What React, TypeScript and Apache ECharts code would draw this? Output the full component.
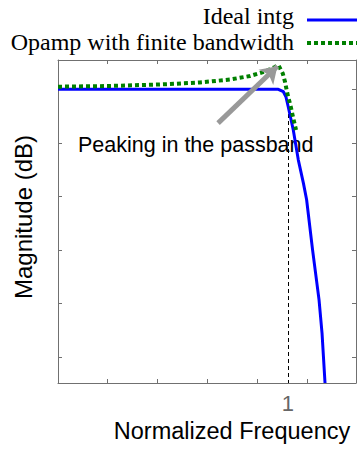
import React, { useEffect, useRef } from 'react';
import * as echarts from 'echarts';

const SERIES_NAMES = ['Ideal intg', 'Opamp with finite bandwidth'];
const IDEAL_FREQ = [0, 0.4, 0.958, 0.98, 0.991, 1.001, 1.023, 1.045, 1.067, 1.081, 1.107, 1.135, 1.148, 1.161];
const IDEAL_MAG = [0, 0, 0, -0.45, -1.38, -3.25, -7.59, -13.2, -17.5, -20.6, -30.0, -39.3, -45.5, -54.8];
const OPAMP_FREQ = [0, 0.226, 0.443, 0.617, 0.748, 0.835, 0.9, 0.943, 0.958, 0.977, 0.987, 0.997, 1.012, 1.023, 1.035];
const OPAMP_MAG = [0.49, 0.62, 0.9, 1.27, 1.83, 2.48, 3.32, 4.16, 4.53, 2.99, 1.42, -0.75, -3.25, -5.41, -7.59];
const X_TICKS = [0.214, 0.432, 0.649, 0.867, 1.084];
const X_LABELS = [1];
const Y_TICKS = [-50, -40, -30, -20, -10, 0];
const X_MIN = 0;
const X_MAX = 1.2957;
const Y_MIN = -54.8;
const Y_MAX = 5.47;
const CUTOFF_FREQ = 1;
const CUTOFF_MAG = -3.3;
const ARROW_FROM = [0.696, -6.3];
const ARROW_TO = [0.954, 4.3];
const ANNOTATION = 'Peaking in the passband';
const X_NAME = 'Normalized Frequency';
const Y_NAME = 'Magnitude (dB)';

const AXIS_COLOR = '#707070';
const SANS = '"Liberation Sans", Arial, sans-serif';
const SERIF = '"Liberation Serif", "Times New Roman", serif';

export default function App() {
  const ref = useRef<HTMLDivElement>(null);
  useEffect(() => {
    if (!ref.current) return;
    const chart = echarts.init(ref.current, undefined, { renderer: 'svg' });
    const ideal = IDEAL_FREQ.map((f, i) => [f, IDEAL_MAG[i]]);
    const opamp = OPAMP_FREQ.map((f, i) => [f, OPAMP_MAG[i]]);
    const baseX = {
      type: 'value',
      min: X_MIN,
      max: X_MAX,
      splitLine: { show: false },
      axisLine: { show: true, onZero: false, lineStyle: { color: AXIS_COLOR, width: 1 } },
      axisTick: { show: true, inside: true, length: 4, customValues: X_TICKS, lineStyle: { color: AXIS_COLOR } },
    };
    const baseY = {
      type: 'value',
      min: Y_MIN,
      max: Y_MAX,
      splitLine: { show: false },
      axisLine: { show: true, onZero: false, lineStyle: { color: AXIS_COLOR, width: 1 } },
      axisTick: { show: true, inside: true, length: 4, customValues: Y_TICKS, lineStyle: { color: AXIS_COLOR } },
      axisLabel: { show: false },
    };
    chart.setOption({
      animation: false,
      grid: { left: 58, right: 1, top: 60, bottom: 66, containLabel: false },
      xAxis: [
        {
          ...baseX,
          position: 'bottom',
          axisLabel: { show: true, customValues: X_LABELS, margin: 9, fontFamily: SANS, fontSize: 22, color: '#666' },
        },
        { ...baseX, position: 'top', axisLabel: { show: false } },
      ],
      yAxis: [
        { ...baseY, position: 'left' },
        { ...baseY, position: 'right' },
      ],
      series: [
        {
          name: SERIES_NAMES[0],
          type: 'line',
          data: ideal,
          showSymbol: false,
          symbol: 'none',
          lineStyle: { color: '#0000ff', width: 3 },
          z: 3,
          markLine: {
            silent: true,
            symbol: ['none', 'none'],
            label: { show: false },
            lineStyle: { color: '#000', width: 1, type: [4, 3] },
            data: [[{ coord: [CUTOFF_FREQ, CUTOFF_MAG] }, { coord: [CUTOFF_FREQ, Y_MIN] }]],
            z: 1,
          },
        },
        {
          name: SERIES_NAMES[1],
          type: 'line',
          data: opamp,
          showSymbol: false,
          symbol: 'none',
          lineStyle: { color: '#008000', width: 4, type: [4, 3] },
          z: 4,
          markLine: {
            silent: true,
            symbol: ['none', 'arrow'],
            symbolSize: 16,
            label: { show: false },
            lineStyle: { color: '#999999', width: 5, type: 'solid' },
            itemStyle: { color: '#999999' },
            data: [[{ coord: ARROW_FROM }, { coord: ARROW_TO }]],
          },
        },
      ],
      graphic: [
        { type: 'text', left: 78, top: 134, style: { text: ANNOTATION, fontFamily: SANS, fontSize: 21.5, fill: '#000' } },
        { type: 'text', x: 232, y: 431, style: { text: X_NAME, fontFamily: SANS, fontSize: 23.5, fill: '#000', align: 'center', verticalAlign: 'middle' } },
        { type: 'text', x: 23, y: 217, rotation: Math.PI / 2, style: { text: Y_NAME, fontFamily: SANS, fontSize: 24, fill: '#000', align: 'center', verticalAlign: 'middle' } },
        { type: 'text', x: 294, y: 16, style: { text: SERIES_NAMES[0], fontFamily: SERIF, fontSize: 24, fill: '#000', align: 'right', verticalAlign: 'middle' } },
        { type: 'line', shape: { x1: 307, y1: 20, x2: 357, y2: 20 }, style: { stroke: '#0000ff', lineWidth: 3 } },
        { type: 'text', x: 294, y: 42, style: { text: SERIES_NAMES[1], fontFamily: SERIF, fontSize: 24, fill: '#000', align: 'right', verticalAlign: 'middle' } },
        { type: 'line', shape: { x1: 307, y1: 43, x2: 357, y2: 43 }, style: { stroke: '#008000', lineWidth: 4, lineDash: [4, 3] } },
      ],
    });
    return () => chart.dispose();
  }, []);
  return <div ref={ref} style={{ position: 'absolute', left: 0, top: 0, width: 357, height: 449 }} />;
}
